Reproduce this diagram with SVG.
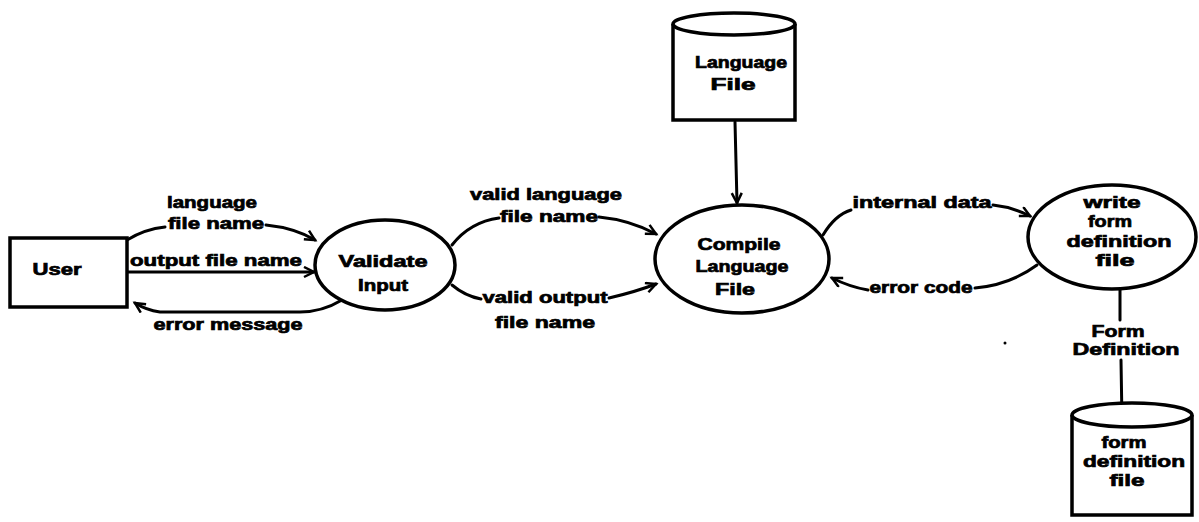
<svg xmlns="http://www.w3.org/2000/svg" width="1199" height="522" viewBox="0 0 1199 522">
  <style>
    .shape { fill: #ffffff; stroke: #000000; stroke-width: 3.5; }
    .conn { fill: none; stroke: #000000; stroke-width: 3; stroke-linecap: round; }
    text { font-family: "Liberation Sans", Arial, sans-serif; font-weight: bold; font-size: 16px; fill: #000000; stroke: #000000; stroke-width: 0.7; text-anchor: middle; }
  </style>
  <defs>
    <marker id="arrow" markerUnits="userSpaceOnUse" markerWidth="14" markerHeight="14" refX="11" refY="6" orient="auto">
      <path d="M1,1 L11,6 L1,11" fill="none" stroke="#000000" stroke-width="2.5"/>
    </marker>
  </defs>
  <rect width="1199" height="522" fill="#ffffff"/>

  <g id="connectors">
    <!-- language file name -->
    <path class="conn" d="M127,240 Q145,229 165,227"/>
    <path class="conn" d="M266,225 Q295,228 315,240" marker-end="url(#arrow)"/>
    <!-- output file name -->
    <path class="conn" d="M127,272 L314,272" marker-end="url(#arrow)"/>
    <!-- error message -->
    <path class="conn" d="M342,300 Q322,312 300,312 L160,312 Q146,310 135,303" marker-end="url(#arrow)"/>
    <!-- valid language file name -->
    <path class="conn" d="M452,245 Q470,222 499,218"/>
    <path class="conn" d="M599,217 Q630,220 656,234" marker-end="url(#arrow)"/>
    <!-- valid output file name -->
    <path class="conn" d="M452,285 Q465,296 481,299"/>
    <path class="conn" d="M609,298 Q635,292 656,284" marker-end="url(#arrow)"/>
    <!-- internal data -->
    <path class="conn" d="M823,235 Q835,215 851,210"/>
    <path class="conn" d="M993,205 Q1012,207 1030,216" marker-end="url(#arrow)"/>
    <!-- error code -->
    <path class="conn" d="M1037,265 Q1010,285 975,288"/>
    <path class="conn" d="M868,290 Q850,287 832,278" marker-end="url(#arrow)"/>
    <!-- Language File to Compile -->
    <path class="conn" d="M735,122 L737,203" marker-end="url(#arrow)"/>
    <!-- Form Definition -->
    <path class="conn" d="M1120,290 L1120,320"/>
    <path class="conn" d="M1121,360 L1122,421" marker-end="url(#arrow)"/>
  </g>

  <g id="labels">
    <text x="212" y="208" textLength="90" lengthAdjust="spacingAndGlyphs">language</text>
    <text x="216" y="229" textLength="96" lengthAdjust="spacingAndGlyphs">file name</text>
    <text x="216" y="266" textLength="172" lengthAdjust="spacingAndGlyphs">output file name</text>
    <text x="228" y="330" textLength="149" lengthAdjust="spacingAndGlyphs">error message</text>
    <text x="546" y="200" textLength="152" lengthAdjust="spacingAndGlyphs">valid language</text>
    <text x="549" y="222" textLength="98" lengthAdjust="spacingAndGlyphs">file name</text>
    <text x="545" y="303" textLength="125" lengthAdjust="spacingAndGlyphs">valid output</text>
    <text x="545" y="328" textLength="100" lengthAdjust="spacingAndGlyphs">file name</text>
    <text x="922" y="208" textLength="139" lengthAdjust="spacingAndGlyphs">internal data</text>
    <text x="921" y="293" textLength="103" lengthAdjust="spacingAndGlyphs">error code</text>
    <text x="1118" y="337" textLength="53" lengthAdjust="spacingAndGlyphs">Form</text>
    <text x="1126" y="355" textLength="107" lengthAdjust="spacingAndGlyphs">Definition</text>
  </g>

  <g id="user">
    <rect class="shape" x="10" y="238" width="117" height="69"/>
    <text x="57" y="275" textLength="49" lengthAdjust="spacingAndGlyphs">User</text>
  </g>

  <g id="validate-input">
    <ellipse class="shape" cx="385" cy="265" rx="70" ry="45"/>
    <text x="383" y="267" textLength="89" lengthAdjust="spacingAndGlyphs">Validate</text>
    <text x="383" y="291" textLength="50" lengthAdjust="spacingAndGlyphs">Input</text>
  </g>

  <g id="language-file">
    <path class="shape" d="M673,24 L673,120 L795,120 L795,24"/>
    <ellipse class="shape" cx="734" cy="24" rx="61" ry="11"/>
    <text x="741" y="68" textLength="92" lengthAdjust="spacingAndGlyphs">Language</text>
    <text x="733" y="90" textLength="45" lengthAdjust="spacingAndGlyphs">File</text>
  </g>

  <g id="compile-language-file">
    <ellipse class="shape" cx="742" cy="259" rx="87" ry="54"/>
    <text x="739" y="250" textLength="83" lengthAdjust="spacingAndGlyphs">Compile</text>
    <text x="742" y="272" textLength="93" lengthAdjust="spacingAndGlyphs">Language</text>
    <text x="735" y="295" textLength="40" lengthAdjust="spacingAndGlyphs">File</text>
  </g>

  <g id="write-form-definition-file">
    <ellipse class="shape" cx="1112" cy="237" rx="84" ry="52"/>
    <text x="1112" y="208" textLength="57" lengthAdjust="spacingAndGlyphs">write</text>
    <text x="1110" y="227" textLength="44" lengthAdjust="spacingAndGlyphs">form</text>
    <text x="1119" y="247" textLength="105" lengthAdjust="spacingAndGlyphs">definition</text>
    <text x="1115" y="266" textLength="39" lengthAdjust="spacingAndGlyphs">file</text>
  </g>

  <g id="form-definition-file">
    <path class="shape" d="M1072,415 L1072,515 L1192,515 L1192,415"/>
    <ellipse class="shape" cx="1132" cy="415" rx="60" ry="12"/>
    <text x="1124" y="448" textLength="45" lengthAdjust="spacingAndGlyphs">form</text>
    <text x="1134" y="467" textLength="102" lengthAdjust="spacingAndGlyphs">definition</text>
    <text x="1127" y="486" textLength="35" lengthAdjust="spacingAndGlyphs">file</text>
  </g>

  <circle cx="1005" cy="343" r="1.5" fill="#000000"/>
</svg>
